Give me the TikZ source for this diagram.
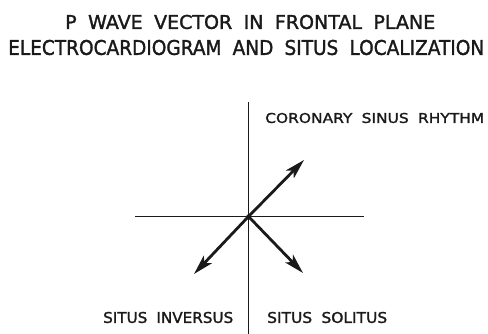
\documentclass[tikz,border=0pt]{standalone}
\usepackage{fontspec}
\setmainfont[FakeBold=1.6]{DejaVu Sans}
\usetikzlibrary{arrows.meta}
\definecolor{ink}{HTML}{1A1A1A}
\newcommand{\ws}{\hspace{0.6em}}
\tikzset{
  axisline/.style={draw=ink, line width=1.6pt},
  vecline/.style={draw=ink, line width=2.8pt, -{Stealth[length=20pt, width=11pt, inset=5pt]}},
  lbl/.style={inner sep=0pt, text=ink, anchor=west}
}
\begin{document}
\begin{tikzpicture}[x=1pt,y=-1pt]
\useasboundingbox[fill=white] (0,0) rectangle (488,334);
% axes
\coordinate (T) at (248.5,102);
\coordinate (B) at (248.5,334);
\coordinate (L) at (135,216.5);
\coordinate (R) at (364,216.5);
\coordinate (O) at (248.5,216.5);
\draw[axisline] (T) -- (B);
\draw[axisline] (L) -- (R);
% vectors
\coordinate (UR) at (304,160);
\coordinate (LL) at (194,274);
\coordinate (LR) at (303,273);
\draw[vecline] (O) -- (UR);
\draw[vecline] (O) -- (LL);
\draw[vecline] (O) -- (LR);
\fill[ink] (O) circle (2.2pt);
% titles
\node[lbl] (t1) at (65,22) {\resizebox{370pt}{14pt}{P\ws WAVE\ws VECTOR\ws IN\ws FRONTAL\ws PLANE}};
\node[lbl] (t2) at (8,47.5) {\resizebox{476pt}{15pt}{ELECTROCARDIOGRAM\ws AND\ws SITUS\ws LOCALIZATION}};
% labels
\node[lbl] (csr) at (265,118) {\resizebox{219pt}{10pt}{CORONARY\ws SINUS\ws RHYTHM}};
\node[lbl] (si) at (103,317.5) {\resizebox{130pt}{11pt}{SITUS\ws INVERSUS}};
\node[lbl] (ss) at (267,317.5) {\resizebox{120pt}{11pt}{SITUS\ws SOLITUS}};
\end{tikzpicture}
\end{document}
